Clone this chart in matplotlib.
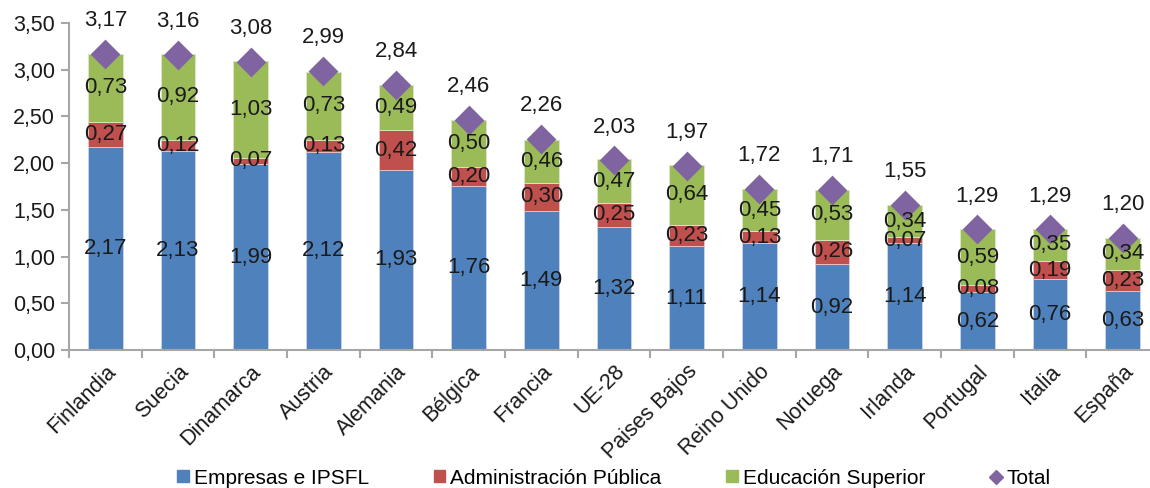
import matplotlib
matplotlib.use("Agg")
import matplotlib.pyplot as plt
import numpy as np
from matplotlib.lines import Line2D
from matplotlib.patches import Patch

plt.rcParams['font.family'] = ['Liberation Sans', 'DejaVu Sans']

countries = ["Finlandia", "Suecia", "Dinamarca", "Austria", "Alemania", "Bélgica", "Francia",
             "UE-28", "Paises Bajos", "Reino Unido", "Noruega", "Irlanda", "Portugal", "Italia", "España"]
empresas = [2.17, 2.13, 1.99, 2.12, 1.93, 1.76, 1.49, 1.32, 1.11, 1.14, 0.92, 1.14, 0.62, 0.76, 0.63]
administracion = [0.27, 0.12, 0.07, 0.13, 0.42, 0.20, 0.30, 0.25, 0.23, 0.13, 0.26, 0.07, 0.08, 0.19, 0.23]
educacion = [0.73, 0.92, 1.03, 0.73, 0.49, 0.50, 0.46, 0.47, 0.64, 0.45, 0.53, 0.34, 0.59, 0.35, 0.34]
total = [3.17, 3.16, 3.08, 2.99, 2.84, 2.46, 2.26, 2.03, 1.97, 1.72, 1.71, 1.55, 1.29, 1.29, 1.20]
yticks = [0, 0.5, 1.0, 1.5, 2.0, 2.5, 3.0, 3.5]

c_blue = "#4F81BD"
c_red = "#C0504D"
c_green = "#9BBB59"
c_purple = "#8064A2"

W, H = 1150, 488
fig = plt.figure(figsize=(W/100, H/100), dpi=100)
ax = fig.add_axes([69/W, 1-350/H, (1159-69)/W, (350-23)/H])

x = np.arange(len(countries))
bw = 0.48
emp = np.array(empresas)
adm = np.array(administracion)
edu = np.array(educacion)

ax.bar(x, emp, bw, color=c_blue, edgecolor="#C9D6E8", linewidth=0.6)
ax.bar(x, adm, bw, bottom=emp, color=c_red, edgecolor="#E8C9C8", linewidth=0.6)
ax.bar(x, edu, bw, bottom=emp+adm, color=c_green, edgecolor="#DCE8C8", linewidth=0.6)
ax.scatter(x, total, marker="D", s=230, color=c_purple, zorder=5, linewidths=0)

fs = 16
def fmt(v):
    return f"{v:.2f}".replace(".", ",")

for i in range(len(countries)):
    ax.text(x[i], emp[i]/2, fmt(emp[i]), ha="center", va="center", fontsize=fs, color="#1a1a1a", zorder=6)
    ax.text(x[i], emp[i]+adm[i]/2, fmt(adm[i]), ha="center", va="center", fontsize=fs, color="#1a1a1a", zorder=6)
    ax.text(x[i], emp[i]+adm[i]+edu[i]/2, fmt(edu[i]), ha="center", va="center", fontsize=fs, color="#1a1a1a", zorder=6)
    ax.annotate(fmt(total[i]), (x[i], total[i]), xytext=(0, 24), textcoords="offset points",
                ha="center", va="center", fontsize=fs, color="#1a1a1a", zorder=6)

ax.set_xlim(-0.5, len(countries)-0.5)
ax.set_ylim(0, 3.5)
ax.set_yticks(yticks)
ax.set_yticklabels([fmt(v) for v in yticks], fontsize=15.5, color="#1a1a1a")
ax.set_xticks(x)
ax.set_xticklabels(countries, rotation=45, ha="right", rotation_mode="anchor", fontsize=15.5, color="#1a1a1a")
ax.tick_params(axis="x", length=0, pad=8)
ax.set_xticks(np.arange(-0.5, len(countries), 1), minor=True)
ax.tick_params(axis="x", which="minor", length=6, color="#A6A6A6", width=1.5)
ax.tick_params(axis="y", length=6, color="#A6A6A6", width=1.5, pad=4)
for s in ["top", "right"]:
    ax.spines[s].set_visible(False)
for s in ["left", "bottom"]:
    ax.spines[s].set_color("#A6A6A6")
    ax.spines[s].set_linewidth(1.5)

handles = [Patch(color=c_blue, label="Empresas e IPSFL"),
           Patch(color=c_red, label="Administración Pública"),
           Patch(color=c_green, label="Educación Superior"),
           Line2D([], [], marker="D", color=c_purple, linestyle="", markersize=7, label="Total")]
fig.legend(handles=handles, loc="center", bbox_to_anchor=(614/W, 1-478/H), ncol=4, frameon=False,
           fontsize=15, handlelength=0.55, handleheight=0.55, handletextpad=0.25, columnspacing=3.1)

fig.savefig("out.png", dpi=100)
